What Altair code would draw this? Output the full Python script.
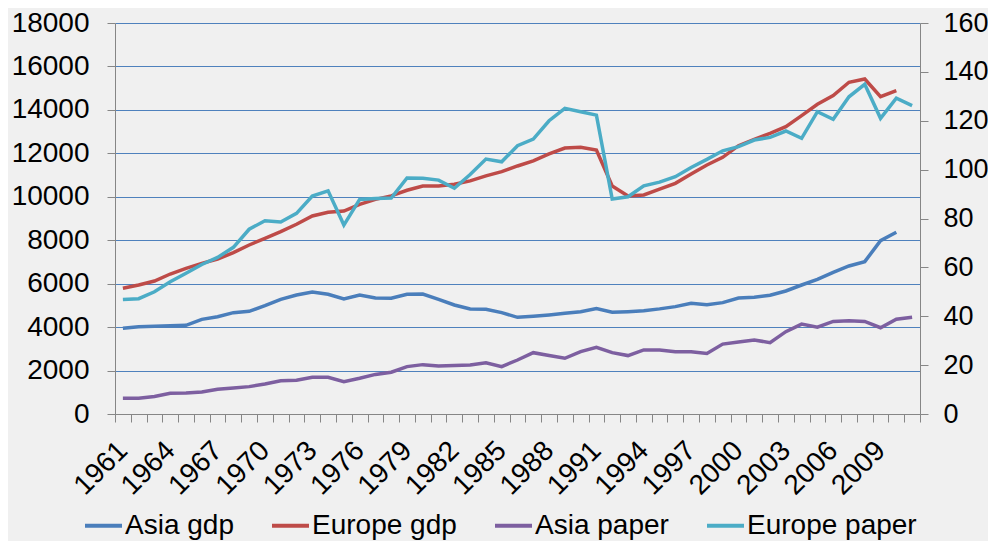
import altair as alt
import pandas as pd

years = list(range(1961, 2012))

asia_gdp = [3946, 4020, 4036, 4067, 4082, 4358, 4481, 4666, 4727, 4987,
            5280, 5479, 5617, 5510, 5295, 5479, 5341, 5330, 5510, 5525,
            5280, 5018, 4834, 4819, 4666, 4451, 4497, 4558, 4635, 4712,
            4850, 4681, 4712, 4757, 4840, 4942, 5095, 5034, 5126, 5341,
            5372, 5464, 5663, 5939, 6200, 6523, 6814, 7013, 7979, 8364]

europe_gdp = [5787, 5938, 6122, 6445, 6707, 6937, 7135, 7426, 7780, 8088,
              8393, 8733, 9115, 9285, 9345, 9653, 9883, 10040, 10300, 10497,
              10497, 10580, 10730, 10960, 11157, 11418, 11649, 11970, 12246, 12279,
              12154, 10497, 10037, 10083, 10350, 10620, 11050, 11464, 11818, 12353,
              12647, 12923, 13228, 13735, 14259, 14655, 15271, 15423, 14609, 14885]

asia_paper = [6.4, 6.4, 7.2, 8.5, 8.6, 9.0, 10.1, 10.6, 11.2, 12.3,
              13.6, 13.8, 15.0, 15.0, 13.2, 14.6, 16.2, 17.1, 19.4, 20.2,
              19.6, 19.8, 20.1, 21.0, 19.4, 22.1, 25.1, 23.9, 22.8, 25.5,
              27.3, 25.1, 23.9, 26.2, 26.2, 25.5, 25.5, 24.8, 28.6, 29.5,
              30.3, 29.2, 33.7, 36.8, 35.5, 37.9, 38.2, 37.9, 35.3, 38.8, 39.6]

europe_paper = [46.9, 47.2, 50.0, 54.1, 57.6, 61.2, 64.1, 68.2, 75.6, 79.1,
                78.6, 82.1, 89.2, 91.3, 77.3, 87.8, 88.2, 88.4, 96.6, 96.5,
                95.7, 92.4, 98.0, 104.3, 103.2, 109.8, 112.5, 120.0, 125.1, 123.7,
                122.3, 88.0, 88.9, 93.4, 94.9, 97.1, 100.9, 104.2, 107.7, 109.4,
                112.1, 113.2, 115.8, 112.8, 123.7, 120.6, 129.8, 134.9, 121.0, 129.2, 126.2]

series_names = ["Asia gdp", "Europe gdp", "Asia paper", "Europe paper"]
series_colors = ["#4a7ebb", "#be4b48", "#7d5fa0", "#4bacc6"]
left_ticks = list(range(0, 18001, 2000))
right_ticks = list(range(0, 161, 20))

rows = []
for name, vals in [("Asia gdp", asia_gdp), ("Europe gdp", europe_gdp)]:
    for y, v in zip(years, vals):
        rows.append({"year": y, "series": name, "value": v, "kind": "gdp"})
for name, vals in [("Asia paper", asia_paper), ("Europe paper", europe_paper)]:
    for y, v in zip(years, vals):
        rows.append({"year": y, "series": name, "value": v, "kind": "paper"})
df = pd.DataFrame(rows)

FONT = "Liberation Sans"
AXIS_GRAY = "#868686"

x_enc = alt.X(
    "year:O",
    scale=alt.Scale(type="band", paddingInner=0, paddingOuter=0),
    bandPosition=0.5,
    axis=alt.Axis(
        title=None,
        tickBand="extent",
        labelExpr="(datum.value - 1961) % 3 == 0 ? datum.label : ''",
        labelAngle=315,
        labelAlign="right",
        labelBaseline="middle",
        labelPadding=24,
        labelOverlap=False,
        labelFont=FONT,
        labelFontSize=28,
        labelColor="#000000",
        domainColor=AXIS_GRAY,
        tickColor=AXIS_GRAY,
        tickSize=8,
        grid=False,
    ),
)

color_enc = alt.Color(
    "series:N",
    scale=alt.Scale(domain=series_names, range=series_colors),
    legend=alt.Legend(
        title=None,
        orient="none",
        direction="horizontal",
        legendX=-32,
        legendY=482,
        symbolType="stroke",
        symbolStrokeWidth=4,
        symbolSize=1369,
        labelFont=FONT,
        labelFontSize=28,
        labelColor="#000000",
        labelOffset=1,
        labelLimit=0,
        columnPadding=30,
    ),
)

base = alt.Chart(df)

def y_axis(orient, ticks, grid, pad, size):
    return alt.Axis(
        title=None,
        orient=orient,
        values=ticks,
        format="d",
        grid=grid,
        gridColor="#4f81bd",
        gridWidth=1,
        labelFont=FONT,
        labelFontSize=size,
        labelColor="#000000",
        labelPadding=pad,
        domainColor=AXIS_GRAY,
        tickColor=AXIS_GRAY,
        tickSize=8,
    )

gdp = base.transform_filter(alt.datum.kind == "gdp").mark_line(strokeWidth=3.5).encode(
    x=x_enc,
    y=alt.Y(
        "value:Q",
        scale=alt.Scale(domain=[0, 18000], nice=False, zero=True),
        axis=y_axis("left", left_ticks, True, 18, 28),
    ),
    color=color_enc,
)

paper = base.transform_filter(alt.datum.kind == "paper").mark_line(strokeWidth=3.5).encode(
    x=x_enc,
    y=alt.Y(
        "value:Q",
        scale=alt.Scale(domain=[0, 160], nice=False, zero=True),
        axis=y_axis("right", right_ticks, False, 15, 27),
    ),
    color=color_enc,
)

chart = (
    alt.layer(gdp, paper)
    .resolve_scale(y="independent")
    .properties(
        width=805,
        height=391,
        autosize=alt.AutoSizeParams(type="none"),
        padding={"left": 107, "top": 15, "right": 68, "bottom": 127},
        background="#f0f0f0",
    )
    .configure_view(stroke=None, fill="#f0f0f0")
)

chart.save("out.html", embed_options={"renderer": "svg", "actions": False})
